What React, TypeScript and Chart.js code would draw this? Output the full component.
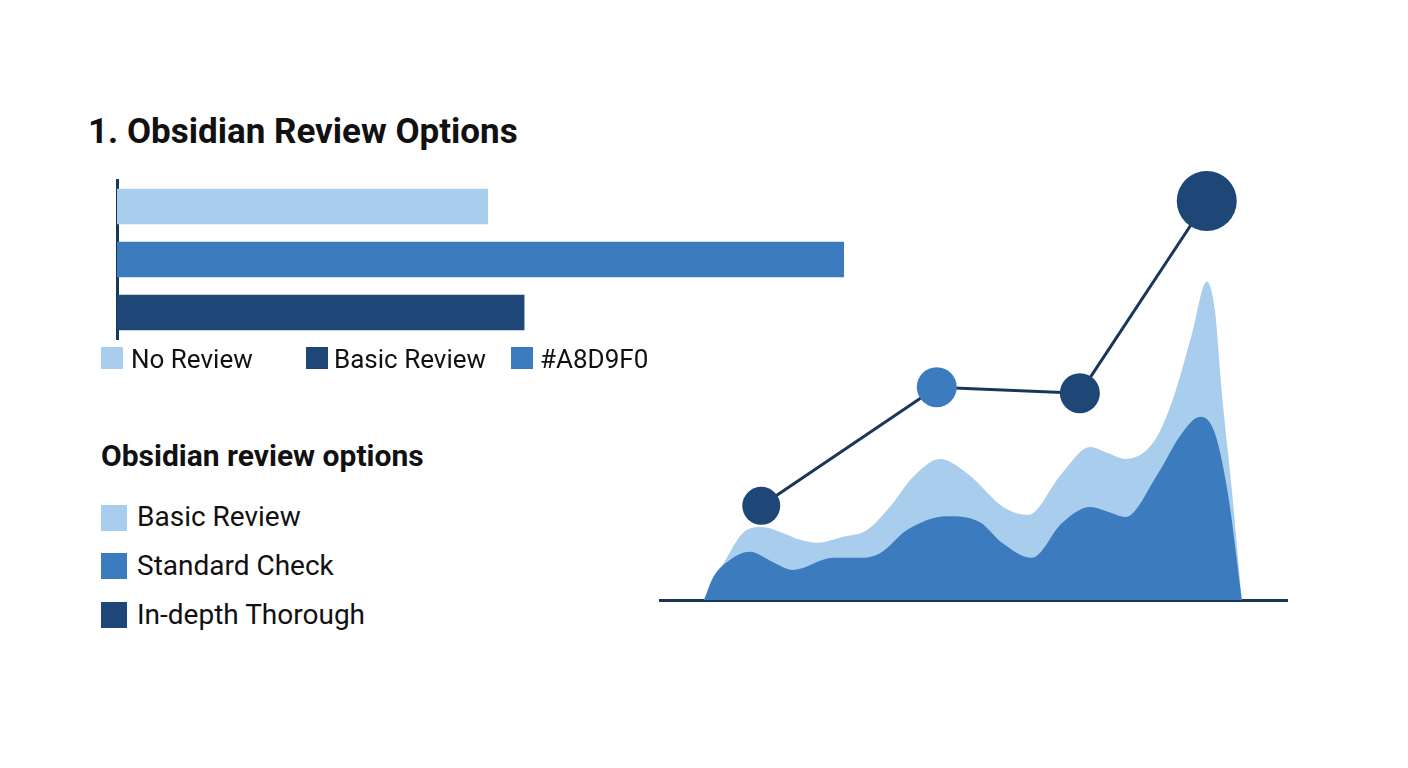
import React, { useEffect, useRef } from "react";
import { Chart, registerables } from "chart.js";

Chart.register(...registerables);

// ---------- data ----------
const barCategories = ["No Review", "Basic Review", "In-depth Review"];
const barValues = [51, 100, 56];

const pageTitle = "1. Obsidian Review Options";
const rowLegendLabels = ["No Review", "Basic Review", "#A8D9F0"];
const sideLegendTitle = "Obsidian review options";
const sideLegendLabels = ["Basic Review", "Standard Check", "In-depth Thorough"];

// light (back) area profile
const lightAreaX = [0, 4.3, 7.2, 10.7, 14.6, 17.8, 20.9, 25.7, 30.2, 34.4, 38.7, 43.7, 48.7, 55.7, 60.0, 66.3, 71.5, 74.8, 78.0, 83.5, 87.2, 90.4, 93.1, 94.6, 95.9, 97.8, 99.6];
const lightAreaY = [0, 10.0, 15.6, 17.0, 15.6, 14.0, 13.3, 14.7, 16.3, 21.6, 28.6, 32.8, 29.5, 21.4, 19.8, 29.5, 35.6, 34.2, 32.8, 37.2, 48.1, 62.1, 74.0, 67.4, 48.1, 24.9, 0];

// medium (front) area profile
const darkAreaX = [0, 1.7, 4.8, 8.5, 12.8, 16.5, 23.9, 28.9, 32.6, 37.6, 45.0, 51.1, 55.2, 60.7, 66.3, 71.5, 74.8, 78.0, 84.1, 88.5, 91.9, 94.6, 97.0, 99.6];
const darkAreaY = [0, 5.3, 9.3, 11.2, 8.8, 7.0, 9.8, 9.8, 10.9, 16.3, 19.5, 18.1, 13.3, 9.8, 17.9, 21.6, 20.5, 19.3, 29.5, 38.8, 42.6, 38.8, 24.9, 0];

// trend line
const lineX = [10.6, 43.1, 69.6, 93.1];
const lineY = [21.9, 49.5, 48.1, 92.8];

// ---------- styles ----------
const LIGHT = "#A9CDEC";
const MEDIUM = "#3C7BBD";
const DARK = "#1E4676";
const NAVY = "#1A3658";
const TEXT = "#111111";
const FONT = "Roboto, 'Noto Sans', sans-serif";

const toPoints = (xs: number[], ys: number[]) => xs.map((x, i) => ({ x, y: ys[i] }));

function BarChart() {
  const ref = useRef<HTMLCanvasElement | null>(null);
  useEffect(() => {
    const chart = new Chart(ref.current as HTMLCanvasElement, {
      type: "bar",
      data: {
        labels: barCategories,
        datasets: [
          {
            data: barValues,
            backgroundColor: [LIGHT, MEDIUM, DARK],
            borderWidth: 0,
            barThickness: 35,
          },
        ],
      },
      options: {
        indexAxis: "y",
        responsive: false,
        animation: false,
        layout: { autoPadding: false, padding: { left: 12, right: 20, top: 10, bottom: 7 } },
        plugins: { legend: { display: false }, tooltip: { enabled: false } },
        scales: {
          x: { display: false, min: 0, max: 100 },
          y: {
            display: true,
            z: 1,
            grid: { display: false, drawTicks: false },
            ticks: { display: false },
            border: { display: true, color: NAVY, width: 3 },
          },
        },
      },
    } as any);
    return () => chart.destroy();
  }, []);
  return (
    <canvas
      ref={ref}
      width={759}
      height={176}
      style={{ position: "absolute", left: 105, top: 170, width: 759, height: 176 }}
    />
  );
}

function AreaChart() {
  const ref = useRef<HTMLCanvasElement | null>(null);
  useEffect(() => {
    const chart = new Chart(ref.current as HTMLCanvasElement, {
      type: "line",
      data: {
        datasets: [
          {
            label: "trend",
            data: toPoints(lineX, lineY),
            borderColor: NAVY,
            borderWidth: 3,
            tension: 0,
            fill: false,
            clip: false,
            pointRadius: [19, 20, 20, 30],
            pointBackgroundColor: [DARK, MEDIUM, DARK, DARK],
            pointBorderWidth: 0,
            pointHoverRadius: [19, 20, 20, 30],
          },
          {
            label: "front",
            data: toPoints(darkAreaX, darkAreaY),
            borderColor: MEDIUM,
            backgroundColor: MEDIUM,
            borderWidth: 0,
            pointRadius: 0,
            fill: "origin",
            cubicInterpolationMode: "monotone",
          },
          {
            label: "back",
            data: toPoints(lightAreaX, lightAreaY),
            borderColor: LIGHT,
            backgroundColor: LIGHT,
            borderWidth: 0,
            pointRadius: 0,
            fill: "origin",
            cubicInterpolationMode: "monotone",
          },
        ],
      },
      options: {
        responsive: false,
        animation: false,
        layout: { autoPadding: false, padding: { left: 20, right: 23, top: 20, bottom: 20 } },
        plugins: { legend: { display: false }, tooltip: { enabled: false } },
        scales: {
          x: {
            type: "linear",
            min: -8.15,
            max: 107.96,
            display: true,
            grid: { display: false, drawTicks: false },
            ticks: { display: false },
            border: { display: true, color: NAVY, width: 3 },
          },
          y: { display: false, min: 0, max: 100 },
        },
      },
    } as any);
    return () => chart.destroy();
  }, []);
  return (
    <canvas
      ref={ref}
      width={670}
      height={470}
      style={{ position: "absolute", left: 640, top: 150, width: 670, height: 470 }}
    />
  );
}

const textStyle = (left: number, top: number, size: number, weight: number): React.CSSProperties => ({
  position: "absolute",
  left,
  top,
  fontSize: size,
  lineHeight: `${size}px`,
  fontWeight: weight,
  fontFamily: FONT,
  color: TEXT,
  whiteSpace: "nowrap",
});

const swatch = (left: number, top: number, size: number, color: string): React.CSSProperties => ({
  position: "absolute",
  left,
  top,
  width: size,
  height: size,
  background: color,
});

export default function App() {
  const rowColors = [LIGHT, DARK, MEDIUM];
  const rowSwatchX = [101, 306, 511];
  const rowTextX = [131, 334, 540];
  const sideColors = [LIGHT, MEDIUM, DARK];
  const sideSwatchY = [505, 553, 602];
  const sideTextTop = [503, 552, 601];
  return (
    <div
      style={{
        position: "fixed",
        left: 0,
        top: 0,
        width: 1408,
        height: 768,
        background: "#ffffff",
        overflow: "hidden",
      }}
    >
      <div style={textStyle(88, 114, 35, 700)}>{pageTitle}</div>
      <BarChart />
      {rowLegendLabels.map((label, i) => (
        <React.Fragment key={label}>
          <div style={swatch(rowSwatchX[i], 347, 22, rowColors[i])} />
          <div style={textStyle(rowTextX[i], 346, 26, 400)}>{label}</div>
        </React.Fragment>
      ))}
      <div style={textStyle(101, 441, 30, 700)}>{sideLegendTitle}</div>
      {sideLegendLabels.map((label, i) => (
        <React.Fragment key={label}>
          <div style={swatch(101, sideSwatchY[i], 26, sideColors[i])} />
          <div style={textStyle(137, sideTextTop[i], 28, 400)}>{label}</div>
        </React.Fragment>
      ))}
      <AreaChart />
    </div>
  );
}
